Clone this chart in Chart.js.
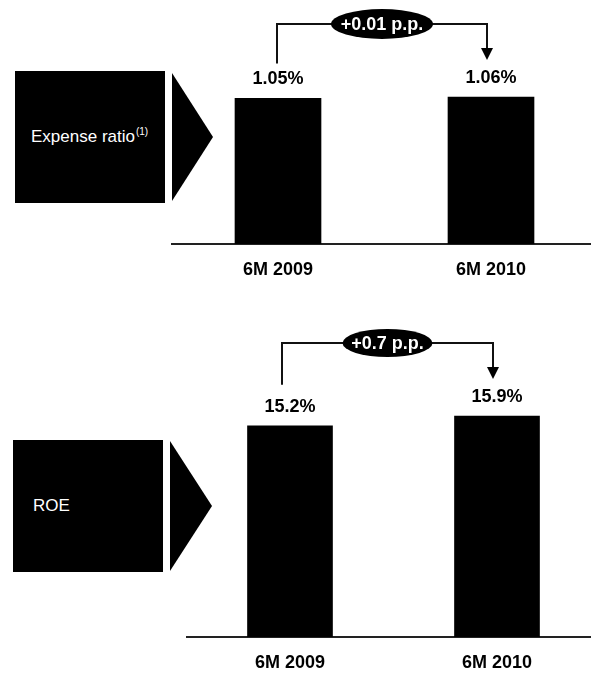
<!DOCTYPE html>
<html>
<head>
<meta charset="utf-8">
<script src="https://cdn.jsdelivr.net/npm/chart.js@4/dist/chart.umd.min.js"></script>
<style>
  html, body { margin: 0; padding: 0; background: #fff; overflow: hidden; width: 591px; height: 674px; }
  .tag { position: absolute; background: #000; color: #fff; font-family: Arial, "Liberation Sans", sans-serif;
         font-size: 17px; display: flex; align-items: center; box-sizing: border-box; }
  .tag sup { font-size: 10px; vertical-align: 7px; line-height: 0; margin-left: 1px; }
  .pointer { position: absolute; background: #000; clip-path: polygon(0 0, 100% 50%, 0 100%); }
  canvas { position: absolute; left: 0; }
</style>
</head>
<body>
<div class="tag" style="left:15px;top:71px;width:150px;height:132px;padding-left:16px;"><span>Expense ratio<sup>(1)</sup></span></div>
<div class="pointer" style="left:172px;top:73px;width:41px;height:128px;"></div>
<div class="tag" style="left:13px;top:440px;width:150px;height:132px;padding-left:20px;"><span>ROE</span></div>
<div class="pointer" style="left:170px;top:441px;width:42px;height:130px;"></div>

<canvas id="expense" width="604" height="300" style="top:0"></canvas>
<canvas id="roe" width="604" height="374" style="top:300px"></canvas>

<script>
// Periods compared and the two ratios (in %)
const periods = ['6M 2009', '6M 2010'];
const expenseRatio = [1.05, 1.06];
const roe = [15.2, 15.9];

const FONT = 'Arial, "Liberation Sans", sans-serif';

// Value labels above the bars plus the bracket arrow with the change badge
const changeMarks = {
  id: 'changeMarks',
  afterDatasetsDraw(chart, args, opts) {
    const ctx = chart.ctx;
    const bars = chart.getDatasetMeta(0).data;
    const vals = chart.data.datasets[0].data;
    ctx.save();
    ctx.fillStyle = '#000';
    ctx.font = 'bold 18px ' + FONT;
    ctx.textAlign = 'center';
    ctx.textBaseline = 'middle';
    bars.forEach((b, i) => ctx.fillText(vals[i].toFixed(opts.decimals) + '%', b.x, b.y - 19));

    const a = bars[0], c = bars[1];
    const x1 = a.x + opts.dx1, x2 = c.x + opts.dx2;
    const lineY = Math.min(a.y, c.y) - 73;
    const startY = a.y - opts.rise;
    const tipY = c.y - 37;

    ctx.strokeStyle = '#111';
    ctx.lineWidth = 2;
    ctx.beginPath();
    ctx.moveTo(x1, startY);
    ctx.lineTo(x1, lineY);
    ctx.lineTo(x2, lineY);
    ctx.lineTo(x2, tipY - 11);
    ctx.stroke();

    ctx.beginPath();
    ctx.moveTo(x2 - 6, tipY - 12);
    ctx.lineTo(x2 + 6, tipY - 12);
    ctx.lineTo(x2, tipY);
    ctx.closePath();
    ctx.fill();

    const mx = (x1 + x2) / 2;
    ctx.beginPath();
    ctx.ellipse(mx, lineY, opts.rx, opts.ry, 0, 0, Math.PI * 2);
    ctx.fill();

    const diff = vals[1] - vals[0];
    ctx.fillStyle = '#fff';
    ctx.font = 'bold 18px ' + FONT;
    ctx.fillText((diff >= 0 ? '+' : '') + diff.toFixed(opts.decimals) + ' p.p.', mx, lineY + 1);
    ctx.restore();
  }
};

function makePanel(id, values, cfg) {
  return new Chart(document.getElementById(id), {
    type: 'bar',
    data: {
      labels: periods,
      datasets: [{ data: values, backgroundColor: '#000', borderWidth: 0, barThickness: cfg.barThickness }]
    },
    options: {
      responsive: false,
      animation: false,
      devicePixelRatio: 1,
      layout: { padding: { top: cfg.padTop, left: cfg.padLeft, right: cfg.padRight, bottom: 0 } },
      plugins: {
        legend: { display: false },
        tooltip: { enabled: false },
        changeMarks: cfg.marks
      },
      scales: {
        x: {
          grid: { display: false, drawTicks: false },
          border: { display: true, color: '#222', width: 2 },
          ticks: { color: '#000', font: { family: FONT, size: 18, weight: 'bold' }, padding: 15 },
          afterFit: s => { s.height = cfg.axisHeight; }
        },
        y: { display: false, min: 0, max: cfg.yMax }
      }
    },
    plugins: [changeMarks]
  });
}

makePanel('expense', expenseRatio, {
  barThickness: 86, padTop: 77.6, padLeft: 171.5, padRight: 6.5, yMax: 1.2, axisHeight: 56,
  marks: { decimals: 2, dx1: -1, dx2: -4, rise: 35, rx: 51, ry: 15 }
});

makePanel('roe', roe, {
  barThickness: 85, padTop: 59, padLeft: 186.5, padRight: 3.5, yMax: 20, axisHeight: 37,
  marks: { decimals: 1, dx1: -8, dx2: -4, rise: 41, rx: 45, ry: 14 }
});
</script>
</body>
</html>
